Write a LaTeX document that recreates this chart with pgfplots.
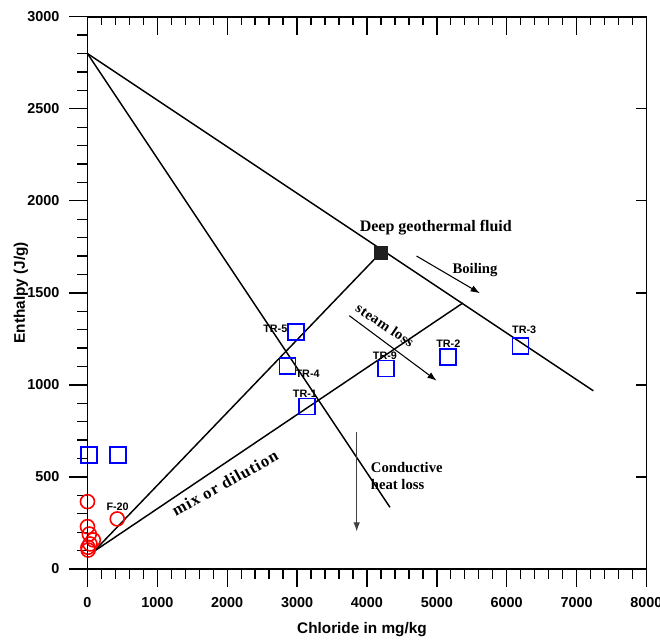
\documentclass[border=0pt]{standalone}
\usepackage{pgfplots}
\pgfplotsset{compat=1.18}
\usetikzlibrary{arrows.meta}
\usepackage{fontspec}
\setmainfont{Liberation Serif}
\newfontfamily\arial{Liberation Sans}

\pgfplotsset{
  frame/.style={
    width=419.25pt, height=414.2pt, scale only axis,
    xmin=0, xmax=8000, ymin=0, ymax=3000,
    clip=false,
    axis line style={line width=1.2pt},
  },
}

\begin{document}
\begin{tikzpicture}
\useasboundingbox (-65.6pt,-54.75pt) rectangle (429.4pt,426.75pt);

% main axis: bottom and left ticks pointing out
\begin{axis}[frame,
  xtick={0,1000,...,8000}, ytick={0,500,...,3000},
  minor x tick num=4, minor y tick num=4,
  xtick pos=bottom, ytick pos=left,
  tick align=outside,
  major tick length=13.5pt, minor tick length=7.5pt,
  every tick/.style={line width=1pt, black},
  /pgf/number format/assume math mode=true,
  /pgf/number format/1000 sep={},
  ticklabel style={font=\arial\bfseries\fontsize{10.8}{12}\selectfont},
  xticklabel style={yshift=-4pt},
  yticklabel style={xshift=-4pt},
  xlabel={Chloride in mg/kg}, ylabel={Enthalpy (J/g)},
  label style={font=\arial\bfseries\fontsize{11.5}{13}\selectfont},
  xlabel style={at={(axis description cs:0.491,-0.1105)}, anchor=center},
  ylabel style={at={(axis description cs:-0.1190,0.5)}, anchor=center, rotate=0},
]
% mixing / boiling lines
\addplot[black, line width=1.1pt] coordinates {(0,2800) (7240,968)};
\addplot[black, line width=1.1pt] coordinates {(0,2800) (4329,335)};
\addplot[black, line width=1.1pt] coordinates {(90,95) (4196,1718)};
\addplot[black, line width=1.1pt] coordinates {(90,95) (5373,1445)};

% process arrows
\addplot[black, line width=0.8pt, -{Latex[length=7pt,width=5pt]}] coordinates {(4710,1700) (5617,1498)};
\addplot[black, line width=0.8pt, -{Latex[length=7pt,width=5pt]}] coordinates {(3747,1376) (4998,1023)};
\addplot[black!75, line width=1pt, -{Latex[length=7pt,width=5pt]}] coordinates {(3853,746) (3853,203)};

% cold waters (springs)
\addplot[only marks, mark=o, mark size=5.25pt, red, line width=1.2pt] coordinates {
  (0,366) (0,230) (26,190) (83,158) (36,136) (7,118) (10,103) (426,272)};

% thermal waters (wells)
\addplot[only marks, mark=square, mark size=6pt, blue, line width=1.2pt] coordinates {
  (20,620) (440,620) (2984,1287) (2865,1103) (3141,882) (4272,1090) (5159,1152) (6200,1211)};

% deep geothermal fluid
\addplot[only marks, mark=square*, mark size=4.75pt, black!88, fill=black!88] coordinates {(4196,1718)};

% annotations
\node[font=\bfseries\fontsize{12}{14}\selectfont] at (axis cs:4985,1856) {Deep geothermal fluid};
\node[font=\bfseries\fontsize{11}{13}\selectfont] at (axis cs:5546,1624) {Boiling};
\node[font=\bfseries\fontsize{11}{13}\selectfont\addfontfeature{LetterSpace=3}, rotate=-34] at (axis cs:4258,1325) {steam loss};
\node[font=\bfseries\fontsize{12.5}{14}\selectfont\addfontfeature{LetterSpace=6}, rotate=29] at (axis cs:1968,467) {mix or dilution};
\node[font=\bfseries\fontsize{11}{13}\selectfont, anchor=west, align=left, inner sep=0pt] at (axis cs:4053,505) {Conductive\\heat loss};

\begin{scope}[font=\arial\bfseries\fontsize{8.1}{9}\selectfont]
\node at (axis cs:2688,1304) {TR-5};
\node at (axis cs:3151,1059) {TR-4};
\node at (axis cs:3113,954) {TR-1};
\node at (axis cs:4258,1159) {TR-9};
\node at (axis cs:5164,1221) {TR-2};
\node at (axis cs:6251,1302) {TR-3};
\node at (axis cs:432,338) {F-20};
\end{scope}
\end{axis}

% top ticks pointing in
\begin{axis}[frame,
  xtick={0,1000,...,8000}, ytick=\empty,
  minor x tick num=4,
  xtick pos=top, tick align=inside,
  xticklabels={},
  major tick length=13.5pt, minor tick length=6pt,
  every tick/.style={line width=1pt, black},
]
\end{axis}

% right ticks pointing in
\begin{axis}[frame,
  xtick=\empty, ytick={0,500,...,3000},
  ytick pos=right, tick align=inside,
  yticklabels={},
  major tick length=7.5pt,
  every tick/.style={line width=1pt, black},
]
\end{axis}
\end{tikzpicture}
\end{document}
